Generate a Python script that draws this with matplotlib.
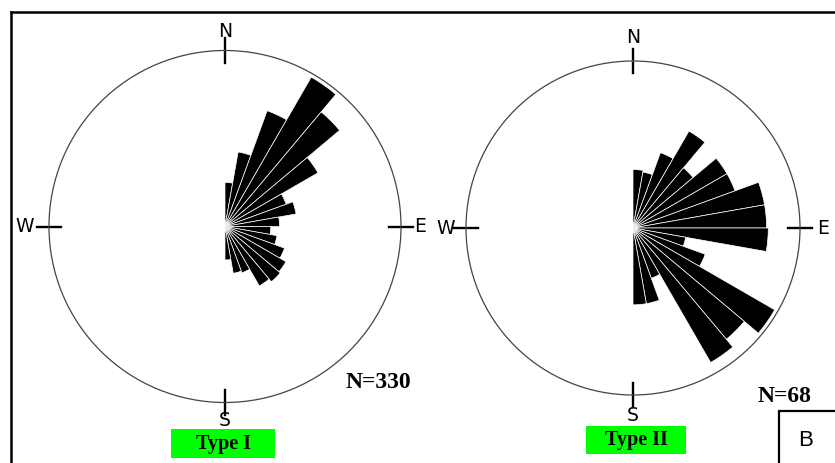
import matplotlib
matplotlib.use("Agg")
import matplotlib.pyplot as plt
import numpy as np
from matplotlib.lines import Line2D
from matplotlib.patches import Rectangle

# 10 degree bins from N (0) clockwise to S (180), bar length as fraction of circle radius
bin_starts = np.arange(0, 180, 10)
type1_len = [0.25, 0.43, 0.70, 0.98, 0.85, 0.61, 0.37, 0.41, 0.31,
             0.26, 0.30, 0.36, 0.40, 0.41, 0.39, 0.28, 0.27, 0.19]
type2_len = [0.35, 0.34, 0.48, 0.67, 0.47, 0.65, 0.65, 0.80, 0.80,
             0.81, 0.32, 0.46, 0.98, 0.87, 0.93, 0.32, 0.46, 0.46]
count_labels = ["N=330", "N=68"]
type_labels = ["Type I", "Type II"]
directions = ["N", "E", "S", "W"]

W, H = 835, 463
fig = plt.figure(figsize=(W / 100, H / 100), dpi=100)


def px_axes(cx, cy, r):
    return [(cx - r) / W, (H - cy - r) / H, 2 * r / W, 2 * r / H]


def rose(rect, lengths, label_r):
    ax = fig.add_axes(rect, projection="polar")
    ax.set_theta_zero_location("N")
    ax.set_theta_direction(-1)
    theta = np.radians(bin_starts + 5)
    ax.bar(theta, lengths, width=np.radians(10), bottom=0,
           color="black", edgecolor="white", linewidth=0.5)
    ax.set_ylim(0, 1)
    ax.grid(False)
    ax.set_xticks([])
    ax.set_yticks([])
    ax.spines["polar"].set_color("#444444")
    ax.spines["polar"].set_linewidth(0.9)
    for i, d in enumerate(directions):
        t = np.radians(i * 90)
        ax.plot([t, t], [0.93, 1.07], color="black", lw=1.7, clip_on=False)
        ax.text(t, label_r[i], d, ha="center", va="center", fontsize=13.5,
                family=["Liberation Sans Narrow", "DejaVu Sans"])
    return ax


ax1 = rose(px_axes(225, 226.5, 176), type1_len, [1.11, 1.11, 1.10, 1.14])
ax2 = rose(px_axes(633, 228, 167), type2_len, [1.14, 1.14, 1.12, 1.12])

# outer frame (continues past right and bottom edges)
fig.add_artist(Line2D([11 / W, 1.01], [1 - 12 / H, 1 - 12 / H],
                      transform=fig.transFigure, color="black", lw=1.8))
fig.add_artist(Line2D([11 / W, 11 / W], [-0.01, 1 - 12 / H],
                      transform=fig.transFigure, color="black", lw=1.8))

# sample counts
fig.text(378 / W, 1 - 383 / H, count_labels[0], ha="center", va="center",
         fontsize=17, fontweight="bold", family="Liberation Serif")
fig.text(785 / W, 1 - 396 / H, count_labels[1], ha="center", va="center",
         fontsize=17, fontweight="bold", family="Liberation Serif")

# green type labels
for (x0, y0, x1, y1), lab in zip([(171, 429, 275, 458), (586, 426, 686, 454)], type_labels):
    fig.add_artist(Rectangle((x0 / W, 1 - y1 / H), (x1 - x0) / W, (y1 - y0) / H,
                             transform=fig.transFigure, facecolor="#00ff00",
                             edgecolor="none"))
    fig.text((x0 + x1) / 2 / W, 1 - (y0 + y1) / 2 / H, lab, ha="center",
             va="center", fontsize=14.5, fontweight="bold", family="Liberation Serif")

# panel letter box
fig.add_artist(Rectangle((779 / W, -0.05), 0.2, 1 - 411 / H + 0.05,
                         transform=fig.transFigure, facecolor="none",
                         edgecolor="black", lw=1.6))
fig.text(806 / W, 1 - 440 / H, "B", ha="center", va="center", fontsize=16,
         family="Liberation Sans")

fig.savefig("out.png", dpi=100)
